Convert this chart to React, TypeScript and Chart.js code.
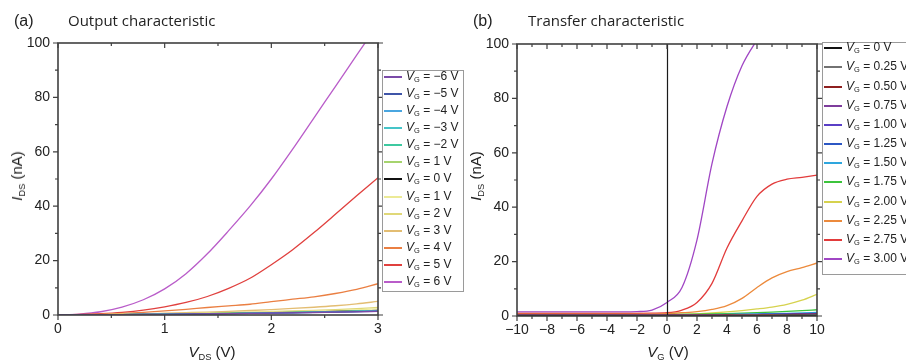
import React, { useEffect, useRef } from "react";
import { Chart, registerables } from "chart.js";

Chart.register(...registerables);

// ---------- Panel (a): output characteristic ----------
const vdsValues = [0, 0.2, 0.4, 0.6, 0.8, 1.0, 1.2, 1.4, 1.6, 1.8, 2.0, 2.2, 2.4, 2.6, 2.8, 3.0];

const outputLabels = ["−6 V", "−5 V", "−4 V", "−3 V", "−2 V", "1 V", "0 V", "1 V", "2 V", "3 V", "4 V", "5 V", "6 V"];
const outputColors = [
  "#7b4aa8", "#3f55a8", "#4aa6e0", "#45c4c8", "#3ec9a0", "#a6d46e", "#111111",
  "#ecea96", "#e0d878", "#e3bd72", "#ea7f42", "#e0403e", "#b95cc9",
];
const iVgM6 = [0, 0.03, 0.07, 0.12, 0.18, 0.25, 0.32, 0.4, 0.49, 0.58, 0.68, 0.79, 0.91, 1.04, 1.18, 1.35];
const iVgM5 = [0, 0.03, 0.07, 0.12, 0.18, 0.25, 0.33, 0.41, 0.5, 0.6, 0.71, 0.83, 0.95, 1.08, 1.23, 1.4];
const iVgM4 = [0, 0.03, 0.08, 0.13, 0.19, 0.26, 0.34, 0.43, 0.52, 0.62, 0.73, 0.85, 0.98, 1.12, 1.28, 1.45];
const iVgM3 = [0, 0.03, 0.08, 0.13, 0.2, 0.27, 0.35, 0.44, 0.54, 0.65, 0.76, 0.88, 1.01, 1.16, 1.32, 1.5];
const iVgM2 = [0, 0.04, 0.08, 0.14, 0.21, 0.28, 0.37, 0.46, 0.56, 0.67, 0.79, 0.92, 1.06, 1.21, 1.38, 1.56];
const iVgM1 = [0, 0.04, 0.09, 0.15, 0.22, 0.3, 0.39, 0.48, 0.59, 0.7, 0.83, 0.96, 1.1, 1.26, 1.43, 1.62];
const iVg0 = [0, 0.04, 0.09, 0.15, 0.23, 0.31, 0.4, 0.5, 0.61, 0.73, 0.86, 1.0, 1.15, 1.31, 1.49, 1.7];
const iVg1 = [0, 0.05, 0.11, 0.19, 0.28, 0.38, 0.5, 0.62, 0.76, 0.91, 1.07, 1.24, 1.43, 1.63, 1.9, 2.25];
const iVg2 = [0, 0.05, 0.13, 0.22, 0.33, 0.45, 0.59, 0.74, 0.91, 1.09, 1.29, 1.5, 1.73, 1.98, 2.35, 2.8];
const iVg3 = [0, 0.06, 0.16, 0.29, 0.45, 0.65, 0.86, 1.08, 1.35, 1.65, 2.0, 2.4, 2.85, 3.4, 4.1, 5.0];
const iVg4 = [0, 0.12, 0.3, 0.6, 1.0, 1.5, 2.1, 2.75, 3.35, 3.95, 4.9, 5.8, 6.7, 7.9, 9.4, 11.5];
const iVg5 = [0, 0.2, 0.5, 1.0, 1.8, 3.0, 4.6, 6.8, 9.8, 13.5, 18.5, 24.0, 30.3, 37.0, 43.8, 50.5];
const iVg6 = [0, 0.35, 1.2, 2.9, 5.6, 9.6, 15.2, 22.5, 31.0, 40.0, 50.0, 61.0, 72.5, 84.0, 95.5, 107];
const outputSeries = [iVgM6, iVgM5, iVgM4, iVgM3, iVgM2, iVgM1, iVg0, iVg1, iVg2, iVg3, iVg4, iVg5, iVg6];

// ---------- Panel (b): transfer characteristic ----------
const vgValues = [-10, -9, -8, -7, -6, -5, -4, -3, -2, -1, 0, 1, 2, 3, 4, 5, 6, 7, 8, 9, 10];

const transferLabels = ["0 V", "0.25 V", "0.50 V", "0.75 V", "1.00 V", "1.25 V", "1.50 V", "1.75 V", "2.00 V", "2.25 V", "2.75 V", "3.00 V"];
const transferColors = [
  "#111111", "#727272", "#8e1f1f", "#7e3c9c", "#5a3fc6", "#2c57c4",
  "#2ea6de", "#3cc43c", "#d6d24e", "#ec8a3c", "#e23b3b", "#a046c4",
];
const iD000 = [0.1, 0.1, 0.1, 0.1, 0.1, 0.1, 0.1, 0.1, 0.1, 0.1, 0.1, 0.1, 0.11, 0.12, 0.13, 0.14, 0.15, 0.17, 0.19, 0.21, 0.24];
const iD025 = [0.2, 0.2, 0.2, 0.2, 0.2, 0.2, 0.2, 0.2, 0.2, 0.2, 0.2, 0.21, 0.22, 0.24, 0.26, 0.29, 0.32, 0.35, 0.39, 0.43, 0.48];
const iD050 = [0.3, 0.3, 0.3, 0.3, 0.3, 0.3, 0.3, 0.3, 0.3, 0.3, 0.3, 0.31, 0.32, 0.34, 0.37, 0.4, 0.44, 0.48, 0.53, 0.59, 0.65];
const iD075 = [0.3, 0.3, 0.3, 0.3, 0.3, 0.3, 0.3, 0.3, 0.3, 0.3, 0.31, 0.32, 0.34, 0.37, 0.4, 0.44, 0.49, 0.54, 0.6, 0.67, 0.75];
const iD100 = [0.3, 0.3, 0.3, 0.3, 0.3, 0.3, 0.3, 0.3, 0.3, 0.3, 0.31, 0.33, 0.36, 0.39, 0.43, 0.48, 0.54, 0.6, 0.67, 0.76, 0.85];
const iD125 = [0.35, 0.35, 0.35, 0.35, 0.35, 0.35, 0.35, 0.35, 0.35, 0.35, 0.36, 0.38, 0.41, 0.45, 0.5, 0.56, 0.63, 0.7, 0.79, 0.89, 1.0];
const iD150 = [0.4, 0.4, 0.4, 0.4, 0.4, 0.4, 0.4, 0.4, 0.4, 0.4, 0.42, 0.45, 0.49, 0.54, 0.6, 0.68, 0.77, 0.87, 0.99, 1.13, 1.3];
const iD175 = [0.5, 0.5, 0.5, 0.5, 0.5, 0.5, 0.5, 0.5, 0.5, 0.5, 0.53, 0.58, 0.66, 0.76, 0.9, 1.06, 1.25, 1.46, 1.7, 1.98, 2.3];
const iD200 = [0.5, 0.5, 0.5, 0.5, 0.5, 0.5, 0.5, 0.5, 0.5, 0.5, 0.52, 0.6, 0.8, 1.1, 1.5, 2.0, 2.6, 3.3, 4.3, 5.8, 8.0];
const iD225 = [0.7, 0.7, 0.7, 0.7, 0.7, 0.7, 0.7, 0.7, 0.7, 0.72, 0.9, 1.2, 1.6, 2.4, 3.8, 6.5, 10.5, 14.0, 16.3, 17.8, 19.5];
const iD275 = [1.0, 1.0, 1.0, 1.0, 1.0, 1.0, 1.0, 1.0, 1.0, 1.05, 1.2, 2.2, 5.0, 12.0, 25.0, 35.0, 44.0, 48.5, 50.3, 51.0, 51.8];
const iD300 = [1.5, 1.5, 1.5, 1.5, 1.5, 1.5, 1.5, 1.5, 1.6, 2.2, 5.0, 10.5, 28.0, 56.0, 77.0, 92.0, 101.5, 110, 116, 120, 123];
const transferSeries = [iD000, iD025, iD050, iD075, iD100, iD125, iD150, iD175, iD200, iD225, iD275, iD300];

// ---------- helpers ----------
const SANS = "'Liberation Sans', Arial, sans-serif";
const TITLE_FONT = "'Open Sans', 'Noto Sans', sans-serif";
const AXIS_COLOR = "#404040";

const fmtTick = (v: number) => (v < 0 ? "−" + Math.abs(v) : String(v));

const framePlugin = {
  id: "frame",
  afterDatasetsDraw(chart: any, _args: any, opts: any) {
    const { ctx, chartArea } = chart;
    const { left, right, top, bottom } = chartArea;
    const xs = chart.scales.x;
    const ys = chart.scales.y;
    ctx.save();
    ctx.lineCap = "butt";
    if (opts && opts.zeroLine) {
      const px = Math.round(xs.getPixelForValue(0)) + 0.5;
      ctx.strokeStyle = "#1a1a1a";
      ctx.lineWidth = 1.2;
      ctx.beginPath();
      ctx.moveTo(px, top);
      ctx.lineTo(px, bottom);
      ctx.stroke();
    }
    ctx.strokeStyle = AXIS_COLOR;
    ctx.lineWidth = 1.6;
    ctx.strokeRect(left, top, right - left, bottom - top);

    const collect = (scale: any) => {
      const major = scale.ticks.map((t: any) => t.value);
      const minor: number[] = [];
      for (let i = 0; i < major.length - 1; i++) minor.push((major[i] + major[i + 1]) / 2);
      return { major, minor };
    };
    const xt = collect(xs);
    const yt = collect(ys);
    ctx.lineWidth = 1.2;
    ctx.beginPath();
    const xTick = (v: number, len: number) => {
      const p = xs.getPixelForValue(v);
      ctx.moveTo(p, bottom);
      ctx.lineTo(p, bottom + len);
      ctx.moveTo(p, top);
      ctx.lineTo(p, top + len);
    };
    const yTick = (v: number, len: number) => {
      const p = ys.getPixelForValue(v);
      ctx.moveTo(left, p);
      ctx.lineTo(left - len, p);
      ctx.moveTo(right, p);
      ctx.lineTo(right + len, p);
    };
    xt.major.forEach((v: number) => xTick(v, 5));
    xt.minor.forEach((v: number) => xTick(v, 3));
    yt.major.forEach((v: number) => yTick(v, 5));
    yt.minor.forEach((v: number) => yTick(v, 3));
    ctx.stroke();
    ctx.restore();
  },
};

function buildChart(
  canvas: HTMLCanvasElement,
  xValues: number[],
  series: number[][],
  colors: string[],
  labels: string[],
  cfg: { xMin: number; xMax: number; xStep: number; yWidth: number; xHeight: number; padding: any; zeroLine: boolean }
) {
  const datasets = series.map((ys, k) => ({
    label: labels[k],
    data: xValues.map((x, i) => ({ x, y: ys[i] })),
    borderColor: colors[k],
    backgroundColor: colors[k],
    borderWidth: 1.3,
    pointRadius: 0,
    cubicInterpolationMode: "monotone" as const,
    fill: false,
  }));
  return new Chart(canvas, {
    type: "line",
    data: { datasets },
    plugins: [framePlugin],
    options: {
      responsive: false,
      animation: false,
      events: [],
      layout: { padding: cfg.padding },
      plugins: {
        legend: { display: false },
        tooltip: { enabled: false },
        title: { display: false },
        // @ts-ignore
        frame: { zeroLine: cfg.zeroLine },
      },
      scales: {
        x: {
          type: "linear",
          min: cfg.xMin,
          max: cfg.xMax,
          grid: { display: false, drawTicks: false },
          border: { display: false },
          ticks: {
            stepSize: cfg.xStep,
            autoSkip: false,
            maxRotation: 0,
            padding: 6,
            color: "#222",
            font: { family: SANS, size: 14 },
            callback: (v: any) => fmtTick(Number(v)),
          },
          afterFit: (s: any) => {
            s.height = cfg.xHeight;
          },
        },
        y: {
          type: "linear",
          min: 0,
          max: 100,
          grid: { display: false, drawTicks: false },
          border: { display: false },
          ticks: {
            stepSize: 20,
            autoSkip: false,
            padding: 8,
            color: "#222",
            font: { family: SANS, size: 14 },
            callback: (v: any) => fmtTick(Number(v)),
          },
          afterFit: (s: any) => {
            s.width = cfg.yWidth;
          },
        },
      },
    },
  });
}

const Vg = () => (
  <>
    <i>V</i>
    <span style={{ fontSize: "0.62em", position: "relative", top: "0.3em" }}>G</span>
  </>
);

function Legend(props: {
  left: number; top: number; width: number; height: number; rowStep: number; firstCenter: number;
  labels: string[]; colors: string[];
}) {
  const { left, top, width, height, rowStep, firstCenter, labels, colors } = props;
  const rowH = 16;
  return (
    <div
      style={{
        position: "absolute", left, top, width, height, boxSizing: "border-box",
        border: "1px solid #9a9a9a", background: "#fff",
      }}
    >
      {labels.map((lab, i) => (
        <div
          key={i}
          style={{
            position: "absolute", left: 1, top: Math.round(firstCenter - top - 1 + rowStep * i - rowH / 2), height: rowH,
            display: "flex", alignItems: "center", whiteSpace: "nowrap",
            fontFamily: SANS, fontSize: 12, lineHeight: rowH + "px", color: "#222",
          }}
        >
          <div style={{ width: 18, height: 2, background: colors[i], marginRight: 4, flex: "none" }} />
          <span>
            <Vg /> = {lab}
          </span>
        </div>
      ))}
    </div>
  );
}

const Sub = ({ t }: { t: string }) => (
  <span style={{ fontSize: "0.62em", position: "relative", top: "0.3em" }}>{t}</span>
);

export default function App() {
  const leftRef = useRef<HTMLCanvasElement>(null);
  const rightRef = useRef<HTMLCanvasElement>(null);

  useEffect(() => {
    const a = buildChart(leftRef.current!, vdsValues, outputSeries, outputColors, outputLabels, {
      xMin: 0, xMax: 3, xStep: 1, yWidth: 58, xHeight: 46,
      padding: { top: 43, right: 82, bottom: 0, left: 0 }, zeroLine: false,
    });
    const b = buildChart(rightRef.current!, vgValues, transferSeries, transferColors, transferLabels, {
      xMin: -10, xMax: 10, xStep: 2, yWidth: 57, xHeight: 45,
      padding: { top: 44, right: 89, bottom: 0, left: 0 }, zeroLine: true,
    });
    return () => {
      a.destroy();
      b.destroy();
    };
  }, []);

  const textBase: React.CSSProperties = { position: "absolute", whiteSpace: "nowrap", color: "#222" };

  return (
    <div style={{ position: "absolute", left: 0, top: 0, width: 906, height: 361, background: "#fff", overflow: "hidden" }}>
      <canvas ref={leftRef} width={460} height={361} style={{ position: "absolute", left: 0, top: 0, width: 460, height: 361 }} />
      <canvas ref={rightRef} width={446} height={361} style={{ position: "absolute", left: 460, top: 0, width: 446, height: 361 }} />

      {/* panel titles */}
      <div style={{ ...textBase, left: 14, top: 10.5, fontFamily: SANS, fontSize: 16, lineHeight: "20px" }}>(a)</div>
      <div style={{ ...textBase, left: 68, top: 9.5, fontFamily: TITLE_FONT, fontSize: 15, lineHeight: "20px" }}>Output characteristic</div>
      <div style={{ ...textBase, left: 473, top: 10.5, fontFamily: SANS, fontSize: 16, lineHeight: "20px" }}>(b)</div>
      <div style={{ ...textBase, left: 528, top: 9.5, fontFamily: TITLE_FONT, fontSize: 15, lineHeight: "20px" }}>Transfer characteristic</div>

      {/* x axis titles */}
      <div style={{ ...textBase, left: 212, top: 343, transform: "translateX(-50%)", fontFamily: SANS, fontSize: 15, lineHeight: "18px" }}>
        <i>V</i><Sub t="DS" /> (V)
      </div>
      <div style={{ ...textBase, left: 668, top: 343, transform: "translateX(-50%)", fontFamily: SANS, fontSize: 15, lineHeight: "18px" }}>
        <i>V</i><Sub t="G" /> (V)
      </div>

      {/* y axis titles */}
      <div style={{ ...textBase, left: 18, top: 176, transform: "translate(-50%, -50%) rotate(-90deg)", fontFamily: SANS, fontSize: 15, lineHeight: "18px" }}>
        <i>I</i><Sub t="DS" /> (nA)
      </div>
      <div style={{ ...textBase, left: 477, top: 176, transform: "translate(-50%, -50%) rotate(-90deg)", fontFamily: SANS, fontSize: 15, lineHeight: "18px" }}>
        <i>I</i><Sub t="DS" /> (nA)
      </div>

      <Legend left={382} top={70} width={82} height={222} rowStep={17.03} firstCenter={77.3} labels={outputLabels} colors={outputColors} />
      <Legend left={822} top={42} width={100} height={233} rowStep={19.15} firstCenter={48.3} labels={transferLabels} colors={transferColors} />
    </div>
  );
}
